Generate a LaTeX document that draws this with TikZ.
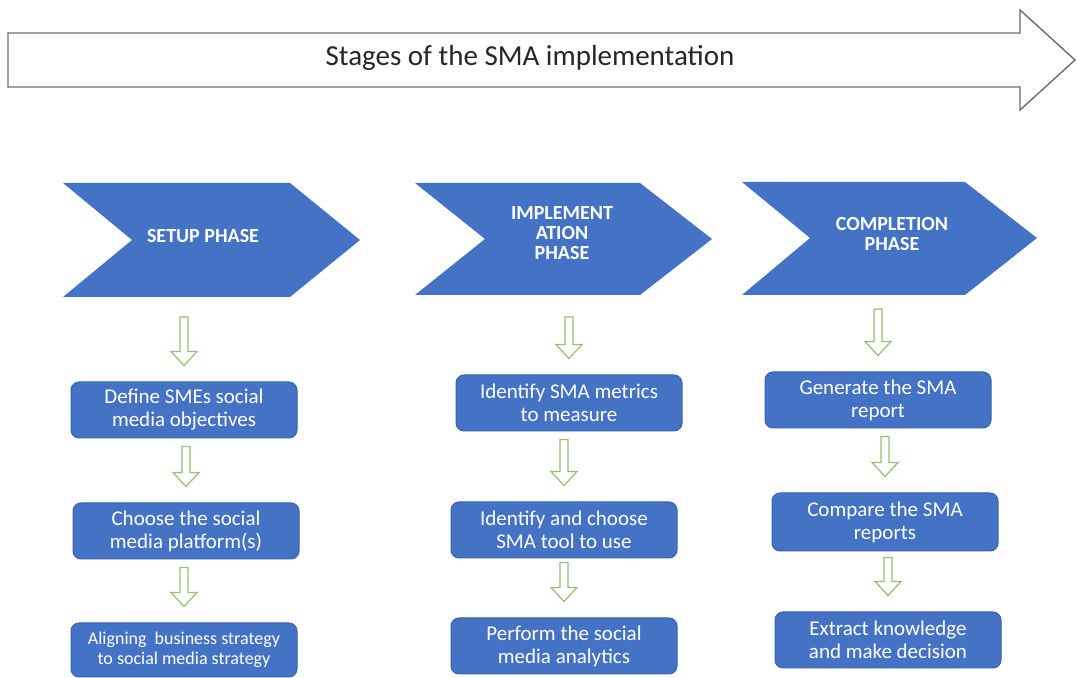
\documentclass[tikz,border=0pt]{standalone}
\usepackage{fontspec}
\setmainfont{Carlito}
\usetikzlibrary{calc}

\definecolor{phaseblue}{HTML}{4472C4}
\definecolor{boxedge}{HTML}{3A62AD}
\definecolor{arrowgreen}{HTML}{94BF72}
\definecolor{titleline}{HTML}{6E6E6E}

% hollow down arrow between two stages (#1 = gap under the upper item)
\newcommand{\flowarrow}[3][4pt]{%
  \draw[hollow] let \p1=(#2), \p2=(#3) in
    (\x2-2pt,\y1-#1) -- (\x2+2pt,\y1-#1) -- (\x2+2pt,\y2+15pt)
    -- (\x2+6.5pt,\y2+15pt) -- (\x2,\y2+8pt) -- (\x2-6.5pt,\y2+15pt)
    -- (\x2-2pt,\y2+15pt) -- cycle;}

\begin{document}
\begin{tikzpicture}[
  x=0.5pt, y=-0.5pt,
  phase/.style={fill=phaseblue},
  phasetext/.style={text=white, align=center, font=\bfseries\fontsize{10}{10}\selectfont},
  stepbox/.style={draw=boxedge, line width=0.5pt, fill=phaseblue, rounded corners=4pt,
    text=white, align=center, inner sep=2pt, minimum width=113pt, minimum height=28pt,
    font=\fontsize{10.5}{11.5}\selectfont},
  hollow/.style={draw=arrowgreen, fill=white, line width=0.6pt},
  titlearrow/.style={draw=titleline, fill=white, line width=0.7pt},
]
\useasboundingbox (0,0) rectangle (1078,678);

% stages banner
\draw[titlearrow] (8,33) -- (1020,33) -- (1020,10) -- (1075,60) -- (1020,110) -- (1020,87) -- (8,87) -- cycle;
\node[text=black!85, font=\fontsize{14.5}{16}\selectfont] (title) at (530,58) {Stages of the SMA implementation};

% phases
\fill[phase] (63,183) -- (290,183) -- (360,240) -- (290,297) -- (63,297) -- (132,240) -- cycle;
\node[phasetext] (ph1) at (203,236) {SETUP PHASE};
\coordinate (ph1-s) at (211,297);
\fill[phase] (415,183) -- (640,183) -- (712,239) -- (640,295) -- (415,295) -- (485,239) -- cycle;
\node[phasetext] (ph2) at (562,233) {IMPLEMENT\\ATION\\PHASE};
\coordinate (ph2-s) at (563,295);
\fill[phase] (742,182) -- (965,182) -- (1037,238) -- (965,295) -- (742,295) -- (810,238) -- cycle;
\node[phasetext] (ph3) at (892,234) {COMPLETION\\PHASE};
\coordinate (ph3-s) at (889,295);

% setup steps
\node[stepbox] (s1) at (184,410) {Define SMEs social\\media objectives};
\node[stepbox] (s2) at (186,531) {Choose the social\\media platform(s)};
\node[stepbox, minimum height=27pt, font=\fontsize{9}{10}\selectfont] (s3) at (184,650) {Aligning\ \ business strategy\\to social media strategy};

% implementation steps
\node[stepbox] (m1) at (569,403) {Identify SMA metrics\\to measure};
\node[stepbox] (m2) at (564,530) {Identify and choose\\SMA tool to use};
\node[stepbox] (m3) at (564,646) {Perform the social\\media analytics};

% completion steps
\node[stepbox] (c1) at (878,400) {Generate the SMA\\report};
\node[stepbox, minimum height=29pt] (c2) at (885,522) {Compare the SMA\\reports};
\node[stepbox] (c3) at (888,640) {Extract knowledge\\and make decision};

\flowarrow[10pt]{ph1-s}{s1.north}
\flowarrow{s1.south}{s2.north}
\flowarrow{s2.south}{s3.north}
\flowarrow[11pt]{ph2-s}{m1.north}
\flowarrow{m1.south}{m2.north}
\flowarrow[2pt]{m2.south}{m3.north}
\flowarrow[7pt]{ph3-s}{c1.north}
\flowarrow{c1.south}{c2.north}
\flowarrow[3pt]{c2.south}{c3.north}
\end{tikzpicture}
\end{document}
